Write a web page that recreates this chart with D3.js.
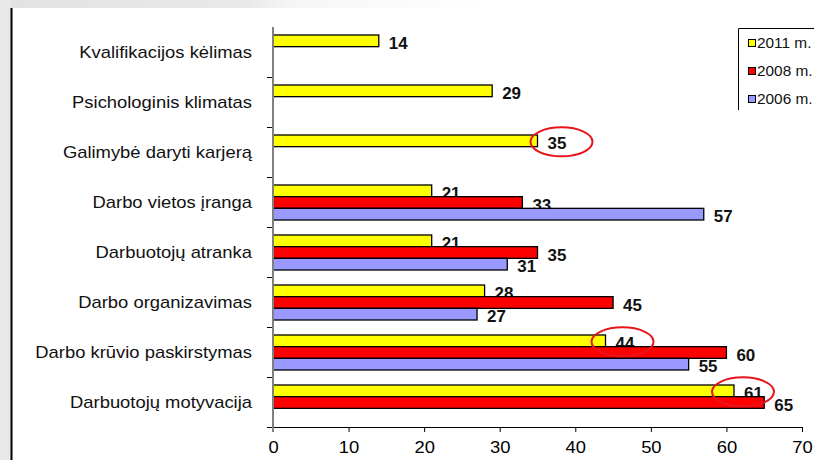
<!DOCTYPE html>
<html>
<head>
<meta charset="utf-8">
<script src="https://cdn.jsdelivr.net/npm/d3@7"></script>
<style>
  body { margin: 0; background: #fff; }
  svg { display: block; font-family: "Liberation Sans", Arial, sans-serif; }
</style>
</head>
<body>
<div id="chart"></div>
<script>
// chart data
const categories = [
    "Kvalifikacijos kėlimas",
    "Psichologinis klimatas",
    "Galimybė daryti karjerą",
    "Darbo vietos įranga",
    "Darbuotojų atranka",
    "Darbo organizavimas",
    "Darbo krūvio paskirstymas",
    "Darbuotojų motyvacija"
];
const seriesNames = ["2011 m.", "2008 m.", "2006 m."];
const values2011 = [14, 29, 35, 21, 21, 28, 44, 61];
const values2008 = [null, null, null, 33, 35, 45, 60, 65];
const values2006 = [null, null, null, 57, 31, 27, 55, null];
const xTicks = [0, 10, 20, 30, 40, 50, 60, 70];
// circled values: [category, series]
const highlighted = [
    ["Galimybė daryti karjerą", "2011 m."],
    ["Darbo krūvio paskirstymas", "2011 m."],
    ["Darbuotojų motyvacija", "2011 m."]
];

const W = 814, H = 460;
const colors = {"2011 m.": "#ffff00", "2008 m.": "#ff0000", "2006 m.": "#9999ff"};
const seriesValues = {"2011 m.": values2011, "2008 m.": values2008, "2006 m.": values2006};
const stretch = 1.15; // glyphs in the original are a bit wide

let svg = d3.select("#chart").append("svg")
    .attr("width", W)
    .attr("height", H);

// grey slide background peeking at the top-left
let defs = svg.append("defs");
let grad = defs.append("linearGradient").attr("id", "topfade").attr("x1", 0).attr("x2", 1);
grad.append("stop").attr("offset", 0).attr("stop-color", "#e2e2e2");
grad.append("stop").attr("offset", 0.3).attr("stop-color", "#e9e9e9");
grad.append("stop").attr("offset", 0.36).attr("stop-color", "#f6f6f6");
grad.append("stop").attr("offset", 0.6).attr("stop-color", "#ffffff");
svg.append("rect").attr("width", W).attr("height", 8).attr("fill", "url(#topfade)");
svg.append("rect").attr("width", 11).attr("height", H).attr("fill", "#e8e8e8");
svg.append("line")
    .attr("x1", 11.5).attr("x2", 11.5).attr("y1", 8).attr("y2", H)
    .attr("stroke", "#000").attr("stroke-width", 2);

let x = d3.scaleLinear().domain([0, 70]).range([273, 802]);
let y0 = d3.scaleBand().domain(categories).range([27, 427]);
let y1 = d3.scaleBand().domain(seriesNames).range([8, 43]);

// x axis
let xAxis = svg.append("g")
    .attr("transform", "translate(0," + y0.range()[1] + ")")
    .call(d3.axisBottom(x).tickValues(xTicks).tickSize(5).tickSizeOuter(0).tickPadding(10));
xAxis.select(".domain").attr("stroke", "#000");
xAxis.selectAll(".tick line").attr("stroke", "#000");
xAxis.selectAll(".tick text")
    .attr("font-size", 16)
    .attr("font-family", "Liberation Sans, Arial, sans-serif")
    .attr("fill", "#000")
    .attr("transform", "scale(" + stretch + ",1)");

// y axis with category labels
let yAxis = svg.append("g")
    .attr("transform", "translate(" + x(0) + ",0)")
    .call(d3.axisLeft(y0).tickSize(0).tickSizeOuter(0));
yAxis.select(".domain").remove();
yAxis.selectAll(".tick text")
    .attr("x", 0)
    .attr("dy", "0.38em")
    .attr("font-size", 16)
    .attr("font-family", "Liberation Sans, Arial, sans-serif")
    .attr("fill", "#111")
    .attr("transform", "translate(-21,0) scale(" + stretch + ",1)");

// ticks between categories
svg.append("g").selectAll("line")
    .data(categories.slice(1).map(c => y0(c)).concat([y0.range()[1]]))
    .enter().append("line")
    .attr("x1", x(0) - 6).attr("x2", x(0))
    .attr("y1", d => d + 0.5).attr("y2", d => d + 0.5)
    .attr("stroke", "#000");

// bars and labels, series by series
seriesNames.forEach(function(s) {
    let rows = categories.map((c, i) => ({cat: c, v: seriesValues[s][i]}))
        .filter(d => d.v !== null);
    let g = svg.append("g");
    g.selectAll("rect")
        .data(rows)
        .enter().append("rect")
        .attr("x", x(0))
        .attr("y", d => y0(d.cat) + y1(s))
        .attr("width", d => x(d.v) - x(0))
        .attr("height", y1.bandwidth())
        .attr("fill", colors[s])
        .attr("stroke", "#000")
        .attr("stroke-width", 1.3);
    g.selectAll("text")
        .data(rows)
        .enter().append("text")
        .attr("transform", d => "translate(" + (x(d.v) + 10) + "," + (y0(d.cat) + y1(s) + y1.bandwidth() / 2 + 8) + ") scale(1.06,1)")
        .attr("font-size", 16)
        .attr("font-weight", "bold")
        .attr("fill", "#111")
        .text(d => d.v);
});

// grey value axis line on top of the bars
svg.append("line")
    .attr("x1", x(0)).attr("x2", x(0))
    .attr("y1", y0.range()[0]).attr("y2", y0.range()[1] + 5)
    .attr("stroke", "#808080").attr("stroke-width", 2);

// legend
let legend = svg.append("g").attr("transform", "translate(738,28)");
legend.append("path")
    .attr("d", "M0.5,82V0.5H90")
    .attr("fill", "none")
    .attr("stroke", "#000");
let item = legend.selectAll(".item")
    .data(seriesNames)
    .enter().append("g")
    .attr("class", "item")
    .attr("transform", (d, i) => "translate(0," + (15 + i * 28) + ")");
item.append("rect")
    .attr("x", 10.5).attr("y", -3.5)
    .attr("width", 7).attr("height", 7)
    .attr("fill", d => colors[d])
    .attr("stroke", "#000");
item.append("text")
    .attr("transform", "translate(19,5) scale(1.1,1)")
    .attr("font-size", 14)
    .attr("fill", "#111")
    .text(d => d);

// red hand-drawn circles around some values
let circleShift = [24, 17, 9];
svg.append("g").selectAll("ellipse")
    .data(highlighted)
    .enter().append("ellipse")
    .attr("cx", (d, i) => x(seriesValues[d[1]][categories.indexOf(d[0])]) + circleShift[i])
    .attr("cy", d => y0(d[0]) + y1(d[1]) + y1.bandwidth() / 2 + 1)
    .attr("rx", 31)
    .attr("ry", 14.5)
    .attr("fill", "none")
    .attr("stroke", "#e8141c")
    .attr("stroke-width", 2);
</script>
</body>
</html>
